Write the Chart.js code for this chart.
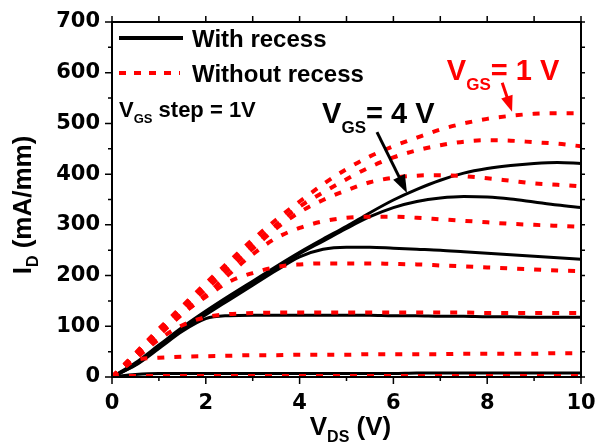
<!DOCTYPE html>
<html>
<head>
<meta charset="utf-8">
<script src="https://cdn.jsdelivr.net/npm/chart.js@4.4.1/dist/chart.umd.min.js"></script>
<style>
  html, body { margin: 0; padding: 0; background: #fff; }
</style>
</head>
<body>
<canvas id="c" width="598" height="445"></canvas>
<script>
// V_DS sweep (V)
const vds = [0, 0.5, 1, 1.5, 2, 2.5, 3, 3.5, 4, 4.5, 5, 5.5, 6, 6.5, 7, 7.5, 8, 8.5, 9, 9.5, 10];
const xTicks = [0, 2, 4, 6, 8, 10];
const yTicks = [0, 100, 200, 300, 400, 500, 600, 700];

// with recess, VGS = 4 .. 0 V (mA/mm)
const rec4 = [0, 28, 63, 98, 130, 160, 189, 218, 246, 272, 297, 324, 349, 370, 388, 402, 411, 417, 421, 423, 421];
const rec3 = [0, 26, 61, 96, 127, 157, 186, 215, 243, 268, 293, 316, 334, 346, 353, 356, 355, 351, 345, 339, 334];
const rec2 = [0, 24, 58, 93, 123, 152, 181, 210, 237, 252, 256, 256, 254, 252, 250, 247, 244, 241, 238, 235, 232];
const rec1 = [0, 23, 56, 90, 115, 121, 122, 122, 122, 122, 122, 122, 121, 121, 120, 120, 119, 119, 118, 118, 118];
const rec0 = [0, 5, 7, 7, 7, 7, 7, 7, 7, 7, 7, 7, 7, 8, 8, 8, 8, 8, 8, 8, 8];

// without recess, VGS = 1 .. -6 V (mA/mm)
const non1 = [0, 47, 95, 140, 185, 228, 271, 310, 346, 380, 410, 435, 455, 472, 488, 500, 509, 515, 519, 520, 520];
const non0 = [0, 46, 93, 137, 181, 222, 262, 300, 336, 364, 390, 414, 433, 447, 457, 464, 467, 466, 463, 460, 455];
const nonM1 = [0, 44, 89, 131, 173, 213, 253, 293, 325, 349, 368, 384, 393, 397, 398, 396, 392, 387, 382, 379, 376];
const nonM2 = [0, 42, 84, 124, 162, 203, 242, 274, 294, 307, 314, 316, 316, 314, 311, 308, 305, 302, 300, 298, 296];
const nonM3 = [0, 40, 82, 125, 158, 188, 205, 217, 222, 224, 224, 224, 223, 222, 220, 218, 216, 214, 212, 210, 209];
const nonM4 = [0, 36, 74, 102, 118, 124, 126, 127, 127, 127, 127, 127, 127, 127, 127, 127, 126, 126, 126, 126, 126];
const nonM5 = [0, 33, 38, 40, 41, 42, 43, 43, 44, 44, 44, 45, 45, 45, 45, 46, 46, 46, 46, 47, 47];
const nonM6 = [0, 2, 2, 2, 2, 2, 2, 2, 2, 2, 2, 2, 2, 2, 2, 2, 2, 2, 2, 2, 2];

const RED = '#ff0000';
const FONT = '"Liberation Sans", Arial, sans-serif';

let pts = ys => ys.map((y, i) => ({x: vds[i], y: y}));
let solid = ys => ({
    data: pts(ys), borderColor: '#000', borderWidth: 3,
    pointRadius: 0, cubicInterpolationMode: 'monotone', fill: false
});
let dotted = ys => ({
    data: pts(ys), borderColor: RED, borderWidth: 4, borderDash: [7, 10],
    borderCapStyle: 'butt', pointRadius: 0, cubicInterpolationMode: 'monotone', fill: false
});

// draws text pieces in a row, [text, size, dy]; returns the end x
function row(ctx, x, y, parts, color, measureOnly) {
    ctx.fillStyle = color;
    ctx.textAlign = 'left';
    ctx.textBaseline = 'alphabetic';
    for (const [t, size, dy] of parts) {
        ctx.font = 'bold ' + size + 'px ' + FONT;
        if (!measureOnly) ctx.fillText(t, x, y + dy);
        x += ctx.measureText(t).width;
    }
    return x;
}

function arrow(ctx, x1, y1, x2, y2, color, head, half) {
    const a = Math.atan2(y2 - y1, x2 - x1), c = Math.cos(a), s = Math.sin(a);
    ctx.strokeStyle = color;
    ctx.fillStyle = color;
    ctx.lineWidth = 3;
    ctx.setLineDash([]);
    ctx.beginPath();
    ctx.moveTo(x1, y1);
    ctx.lineTo(x2 - head * c * 0.7, y2 - head * s * 0.7);
    ctx.stroke();
    ctx.beginPath();
    ctx.moveTo(x2, y2);
    ctx.lineTo(x2 - head * c - half * s, y2 - head * s + half * c);
    ctx.lineTo(x2 - head * c + half * s, y2 - head * s - half * c);
    ctx.closePath();
    ctx.fill();
}

const decor = {
    id: 'decor',
    afterDraw(chart) {
        const ctx = chart.ctx, ca = chart.chartArea;
        const sx = chart.scales.x, sy = chart.scales.y;
        ctx.save();

        // frame
        ctx.strokeStyle = '#000';
        ctx.lineWidth = 2;
        ctx.setLineDash([]);
        ctx.strokeRect(ca.left, ca.top, ca.right - ca.left, ca.bottom - ca.top);

        // tick marks, majors from the tick arrays, minors half way
        ctx.lineWidth = 1.5;
        ctx.beginPath();
        xTicks.forEach((v, i) => {
            const p = sx.getPixelForValue(v);
            ctx.moveTo(p, ca.bottom); ctx.lineTo(p, ca.bottom + 7);
            ctx.moveTo(p, ca.top); ctx.lineTo(p, ca.top - 6);
            if (i < xTicks.length - 1) {
                const m = sx.getPixelForValue((v + xTicks[i + 1]) / 2);
                ctx.moveTo(m, ca.bottom); ctx.lineTo(m, ca.bottom + 4);
                ctx.moveTo(m, ca.top); ctx.lineTo(m, ca.top - 6);
            }
        });
        yTicks.forEach((v, i) => {
            const p = sy.getPixelForValue(v);
            ctx.moveTo(ca.left, p); ctx.lineTo(ca.left - 7, p);
            ctx.moveTo(ca.right, p); ctx.lineTo(ca.right + 4, p);
            if (i < yTicks.length - 1) {
                const m = sy.getPixelForValue((v + yTicks[i + 1]) / 2);
                ctx.moveTo(ca.left, m); ctx.lineTo(ca.left - 4, m);
                ctx.moveTo(ca.right, m); ctx.lineTo(ca.right + 4, m);
            }
        });
        ctx.stroke();

        // axis titles
        const xt = [['V', 26, 0], ['DS', 16, 7], [' (V)', 26, 0]];
        const xw = row(ctx, 0, 0, xt, '#000', true);
        row(ctx, (ca.left + ca.right) / 2 + 4 - xw / 2, 435, xt, '#000');

        const yt = [['I', 26, 0], ['D', 16, 7], [' (mA/mm)', 26, 0]];
        const yw = row(ctx, 0, 0, yt, '#000', true);
        ctx.save();
        ctx.translate(31, 205);
        ctx.rotate(-Math.PI / 2);
        row(ctx, -yw / 2, 0, yt, '#000');
        ctx.restore();

        // legend
        ctx.lineWidth = 4;
        ctx.strokeStyle = '#000';
        ctx.beginPath();
        ctx.moveTo(ca.left + 7, ca.top + 16); ctx.lineTo(ca.left + 71, ca.top + 16);
        ctx.stroke();
        ctx.strokeStyle = RED;
        ctx.setLineDash([7, 8]);
        ctx.beginPath();
        ctx.moveTo(ca.left + 7, ca.top + 51); ctx.lineTo(ca.left + 68, ca.top + 51);
        ctx.stroke();
        ctx.setLineDash([]);
        row(ctx, ca.left + 80, ca.top + 25, [['With recess', 24, 0]], '#000');
        row(ctx, ca.left + 80, ca.top + 60, [['Without recess', 24, 0]], '#000');
        row(ctx, ca.left + 7, ca.top + 95, [['V', 22, 0], ['GS', 13, 6], [' step = 1V', 22, 0]], '#000');

        // curve labels with arrows (placed in data units)
        row(ctx, sx.getPixelForValue(4.48), sy.getPixelForValue(501),
            [['V', 29, 0], ['GS', 17, 10], ['= 4 V', 29, 0]], '#000');
        arrow(ctx, sx.getPixelForValue(5.65), sy.getPixelForValue(483),
            sx.getPixelForValue(6.29), sy.getPixelForValue(363), '#000', 18, 6.5);

        row(ctx, sx.getPixelForValue(7.14), sy.getPixelForValue(586),
            [['V', 29, 0], ['GS', 17, 10], ['= 1 V', 29, 0]], RED);
        arrow(ctx, sx.getPixelForValue(8.32), sy.getPixelForValue(580),
            sx.getPixelForValue(8.53), sy.getPixelForValue(523), RED, 16, 6);

        ctx.restore();
    }
};

const tickFont = {family: '"DejaVu Sans", sans-serif', weight: 'bold', size: 21};

new Chart(document.getElementById('c'), {
    type: 'line',
    data: {
        datasets: [
            dotted(non1), dotted(non0), dotted(nonM1), dotted(nonM2),
            dotted(nonM3), dotted(nonM4), dotted(nonM5), dotted(nonM6),
            solid(rec4), solid(rec3), solid(rec2), solid(rec1), solid(rec0)
        ]
    },
    options: {
        responsive: false,
        animation: false,
        devicePixelRatio: 1,
        layout: {padding: {top: 22, right: 17, left: 0, bottom: 0}},
        plugins: {legend: {display: false}, tooltip: {enabled: false}},
        scales: {
            x: {
                type: 'linear', min: 0, max: 10,
                afterBuildTicks: s => { s.ticks = xTicks.map(v => ({value: v})); },
                afterFit: s => { s.height = 68; s.paddingLeft = 0; s.paddingRight = 0; },
                ticks: {font: tickFont, color: '#000', padding: 14, maxRotation: 0},
                grid: {display: false, drawTicks: false},
                border: {display: false}
            },
            y: {
                type: 'linear', min: 0, max: 700,
                afterBuildTicks: s => { s.ticks = yTicks.map(v => ({value: v})); },
                afterFit: s => { s.width = 112; s.paddingTop = 0; s.paddingBottom = 0; },
                ticks: {font: tickFont, color: '#000', padding: 12},
                grid: {display: false, drawTicks: false},
                border: {display: false}
            }
        }
    },
    plugins: [decor]
});
</script>
</body>
</html>
